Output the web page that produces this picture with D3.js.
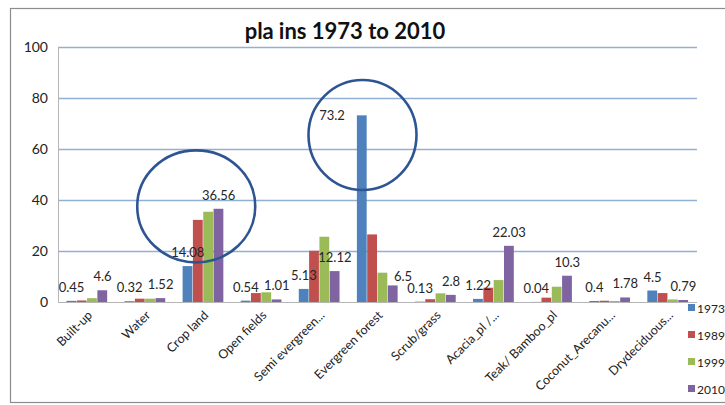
<!DOCTYPE html>
<html>
<head>
<meta charset="utf-8">
<script src="https://cdn.jsdelivr.net/npm/d3@7/dist/d3.min.js"></script>
<style>
  html, body { margin: 0; padding: 0; background: #fff; overflow: hidden; }
  svg { display: block; }
  text { font-family: Lato, "Open Sans", "Liberation Sans", sans-serif; }
</style>
</head>
<body>
<svg id="chart" width="725" height="405"></svg>
<script>
// Land-cover share (%) in the plains, per class and survey year
const categories = ["Built-up", "Water", "Crop land", "Open fields", "Semi evergreen...",
  "Evergreen forest", "Scrub/grass", "Acacia_pl /...", "Teak/ Bamboo_pl",
  "Coconut_Arecanu...", "Drydeciduous..."];
const years = ["1973", "1989", "1999", "2010"];
const v1973 = [0.45, 0.32, 14.08, 0.54, 5.13, 73.2, 0.13, 1.22, 0.04, 0.4, 4.5];
const v1989 = [0.6, 1.3, 32.2, 3.5, 20.1, 26.5, 1.1, 5.6, 1.7, 0.5, 3.5];
const v1999 = [1.5, 1.3, 35.4, 3.8, 25.6, 11.5, 3.4, 8.6, 6.0, 0.4, 1.0];
const v2010 = [4.6, 1.52, 36.56, 1.01, 12.12, 6.5, 2.8, 22.03, 10.3, 1.78, 0.79];
const yTicks = [0, 20, 40, 60, 80, 100];

const seriesValues = [v1973, v1989, v1999, v2010];
const colors = ["#4F81BD", "#C0504D", "#9BBB59", "#8064A2"];
const labelled = [0, 3]; // series that carry value labels

const svg = d3.select("#chart");

// outer chart frame
svg.append("rect").attr("x", 10.5).attr("y", 8.5).attr("width", 740).attr("height", 394)
  .attr("fill", "none").attr("stroke", "#8c8c8c").attr("stroke-width", 1.2);

const plot = { left: 58, right: 697, top: 47, bottom: 302 };

const x = d3.scaleBand().domain(categories).range([plot.left, plot.right]).padding(0);
const gap = x.step() * 0.145;
const xs = d3.scaleBand().domain(years).range([gap, x.step() - gap]).padding(0);
const y = d3.scaleLinear().domain([0, 100]).range([plot.bottom, plot.top]);

// gridlines
svg.append("g").selectAll("line").data(yTicks.filter(t => t > 0)).join("line")
  .attr("x1", plot.left).attr("x2", plot.right)
  .attr("y1", d => y(d) + 0.5).attr("y2", d => y(d) + 0.5)
  .attr("stroke", "#92afd4").attr("stroke-width", 1.3);

// y axis
const yAxis = svg.append("g").attr("transform", `translate(${plot.left},0)`)
  .call(d3.axisLeft(y).tickValues(yTicks).tickSize(0).tickPadding(10));
yAxis.select(".domain").attr("stroke", "#b5b5b5");
yAxis.selectAll("text").attr("font-size", 14).attr("fill", "#222")
  .attr("font-family", "Lato, 'Open Sans', sans-serif");

// bars
const groups = svg.append("g").selectAll("g").data(categories).join("g")
  .attr("transform", d => `translate(${x(d)},0)`);
groups.selectAll("rect")
  .data((c, i) => years.map((yr, s) => ({ yr, s, v: seriesValues[s][i] })))
  .join("rect")
  .attr("x", d => xs(d.yr))
  .attr("width", xs.bandwidth() - 0.5)
  .attr("y", d => y(d.v))
  .attr("height", d => y(0) - y(d.v))
  .attr("fill", d => colors[d.s]);

// x axis baseline
svg.append("line").attr("x1", plot.left).attr("x2", plot.right)
  .attr("y1", plot.bottom + 0.5).attr("y2", plot.bottom + 0.5)
  .attr("stroke", "#b5b5b5");

// category labels, rotated
svg.append("g").selectAll("text").data(categories).join("text")
  .attr("transform", d => `translate(${x(d) + x.bandwidth() / 2 + 6},${plot.bottom + 14}) rotate(-45)`)
  .attr("text-anchor", "end")
  .attr("font-size", 12.5).attr("fill", "#222")
  .text(d => d);

// value labels (nudged where they would collide)
const nudge = { "0-5": [-30, 14], "3-5": [10, 5] };
const labelData = [];
labelled.forEach(s => categories.forEach((c, i) => labelData.push({ s, i, c, v: seriesValues[s][i] })));
svg.append("g").selectAll("text").data(labelData).join("text")
  .attr("x", d => x(d.c) + xs(years[d.s]) + xs.bandwidth() / 2 + (nudge[d.s + "-" + d.i] || [0, 0])[0])
  .attr("y", d => y(d.v) - 9 + (nudge[d.s + "-" + d.i] || [0, 0])[1])
  .attr("text-anchor", "middle")
  .attr("font-size", 13).attr("fill", "#262626")
  .text(d => d.v);

// highlight rings
const rings = [
  { c: "Crop land", v: 37.5, rx: 59, ry: 56 },
  { c: "Evergreen forest", v: 65.5, rx: 54, ry: 55 }
];
svg.append("g").selectAll("ellipse").data(rings).join("ellipse")
  .attr("cx", d => x(d.c) + x.bandwidth() / 2 - (d.c === "Crop land" ? 7 : 15))
  .attr("cy", d => y(d.v))
  .attr("rx", d => d.rx).attr("ry", d => d.ry)
  .attr("fill", "none").attr("stroke", "#2d5592").attr("stroke-width", 2.6);

// legend
const legend = svg.append("g").selectAll("g").data(years).join("g")
  .attr("transform", (d, i) => `translate(688,${308 + i * 27})`);
legend.append("rect").attr("x", 0).attr("y", -4).attr("width", 7).attr("height", 7)
  .attr("fill", (d, i) => colors[i]);
legend.append("text").attr("x", 9).attr("y", 4.5).attr("font-size", 12).attr("fill", "#222")
  .text(d => d);

// title
const title = svg.append("text").attr("x", 345).attr("y", 39)
  .attr("text-anchor", "middle").attr("font-size", 22).attr("font-weight", "bold")
  .attr("fill", "#111");
title.append("tspan").text("pla");
title.append("tspan").attr("dx", 5).text("ins 1973 to 2010");
</script>
</body>
</html>
